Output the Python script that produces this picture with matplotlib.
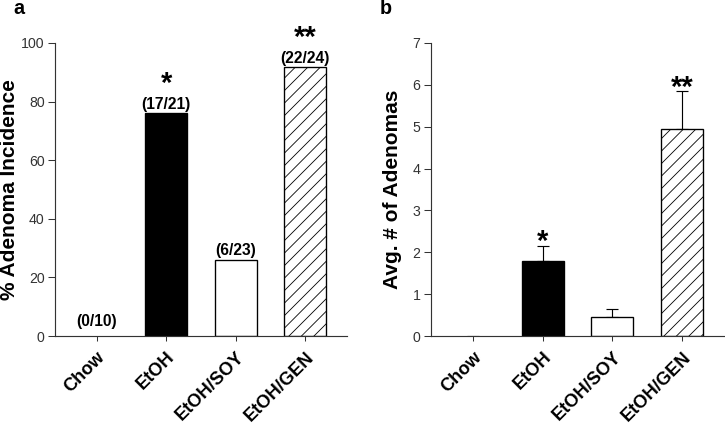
import numpy as np
import matplotlib
matplotlib.use('Agg')
import matplotlib.pyplot as plt

plt.rcParams['font.family'] = ['Liberation Sans', 'DejaVu Sans']
plt.rcParams['hatch.linewidth'] = 0.8

groups = ['Chow', 'EtOH', 'EtOH/SOY', 'EtOH/GEN']
incidence = [0, 76, 26, 91.7]
counts = ['(0/10)', '(17/21)', '(6/23)', '(22/24)']
stars_a = ['', '*', '', '**']

avg = [0, 1.78, 0.46, 4.95]
avg_err = [np.nan, 0.37, 0.19, 0.9]
stars_b = ['', '*', '', '**']

colors = ['white', 'black', 'white', 'white']
hatches = ['', '', '', '//']

DPI = 75
fig = plt.figure(figsize=(725 / DPI, 427 / DPI), dpi=DPI)
ax1 = fig.add_axes([55 / 725, 1 - 336 / 427, 292 / 725, 293 / 427])
ax2 = fig.add_axes([431 / 725, 1 - 336 / 427, 293 / 725, 293 / 427])

x = np.arange(len(groups))


def style(ax):
    for s in ['top', 'right']:
        ax.spines[s].set_visible(False)
    for s in ['left', 'bottom']:
        ax.spines[s].set_color('#333333')
        ax.spines[s].set_linewidth(1.1)
    ax.set_xlim(-0.6, 3.6)
    ax.set_xticks(x)
    ax.set_xticklabels(groups, rotation=45, ha='right', va='top',
                       rotation_mode='anchor', fontsize=17.5, fontweight='bold')
    ax.tick_params(axis='x', length=5, width=1, color='#333333', pad=7)
    ax.tick_params(axis='y', length=7, width=1, color='#333333',
                   labelsize=13.5, labelcolor='#333333', pad=3)


# panel a
for i in x:
    if incidence[i] > 0:
        ax1.bar(x[i], incidence[i], 0.6, color=colors[i], edgecolor='black',
                linewidth=1.3, hatch=hatches[i], zorder=2)
ax1.set_ylim(0, 100)
ax1.set_yticks(range(0, 101, 20))
style(ax1)
ax1.set_ylabel('% Adenoma Incidence', fontsize=20, fontweight='bold', labelpad=2)
for i in x:
    off = 7 if incidence[i] == 0 else 1.5
    ax1.annotate(counts[i], (x[i], incidence[i]), xytext=(0, off),
                 textcoords='offset points', ha='center', va='bottom',
                 fontsize=15, fontweight='bold')
    if stars_a[i]:
        ax1.annotate(stars_a[i], (x[i], incidence[i]), xytext=(0, 15),
                     textcoords='offset points', ha='center', va='bottom',
                     fontsize=28, fontweight='bold')

# panel b
for i in x:
    if avg[i] > 0:
        ax2.bar(x[i], avg[i], 0.6, color=colors[i], edgecolor='black',
                linewidth=1.3, hatch=hatches[i], zorder=2)
ax2.errorbar(x, avg, yerr=[np.zeros(4), avg_err], fmt='none', ecolor='black',
             elinewidth=1.1, capsize=6, capthick=1.1, zorder=1)
ax2.set_ylim(0, 7)
ax2.set_yticks(range(0, 8))
style(ax2)
ax2.set_ylabel('Avg. # of Adenomas', fontsize=20, fontweight='bold', labelpad=10)
for i in x:
    if stars_b[i]:
        ax2.annotate(stars_b[i], (x[i], avg[i] + avg_err[i]), xytext=(0, -10),
                     textcoords='offset points', ha='center', va='bottom',
                     fontsize=28, fontweight='bold')

fig.text(13 / 725, 1 - 9 / 427, 'a', fontsize=19, fontweight='bold', va='center')
fig.text(380 / 725, 1 - 9 / 427, 'b', fontsize=19, fontweight='bold', va='center')

fig.savefig('out.png', dpi=DPI)
